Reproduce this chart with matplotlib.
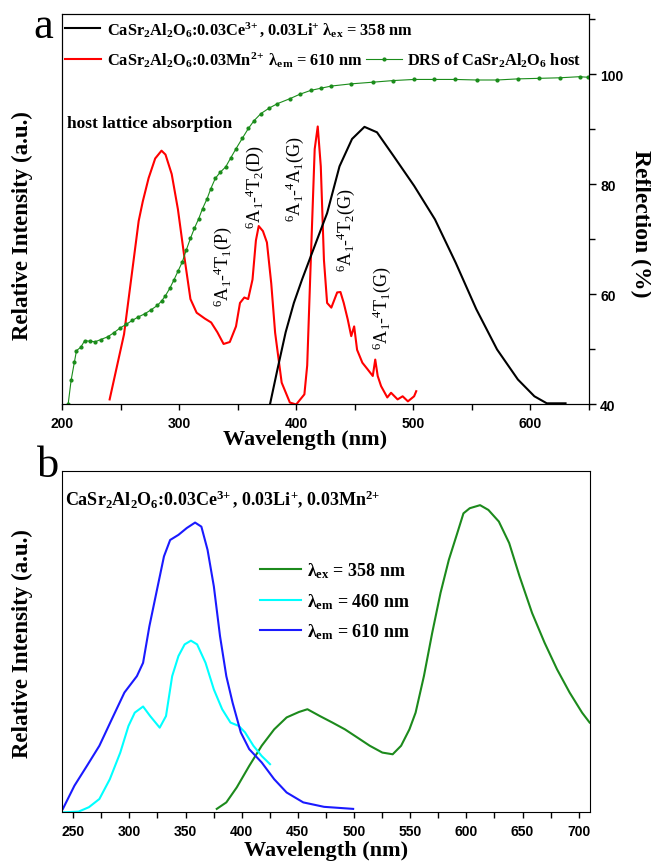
import matplotlib
matplotlib.use("Agg")
import matplotlib.pyplot as plt
from matplotlib.lines import Line2D
from matplotlib.ticker import MultipleLocator
import numpy as np

plt.rcParams['font.family'] = ['Liberation Serif', 'DejaVu Serif']
plt.rcParams['mathtext.fontset'] = 'custom'
plt.rcParams['mathtext.rm'] = 'Liberation Serif'
plt.rcParams['mathtext.bf'] = 'Liberation Serif:bold'
plt.rcParams['mathtext.it'] = 'Liberation Serif:italic'
plt.rcParams['mathtext.default'] = 'bf'

# ---------------- panel a data ----------------
# Mn2+ excitation (lambda_em = 610 nm), red
mn_ex_wl = [240.7, 253, 265.5, 269, 274, 279.6, 285, 288.4, 293.7, 299, 304.4, 309.7, 315, 322,
            327.4, 332.7, 338, 343.3, 348.6, 352, 355.7, 359, 362.7, 365.6, 368, 371.6, 375,
            378.7, 382, 387.6, 394.6, 400, 407, 409.4, 412.3, 415.8, 418.4, 421, 423.7, 426.4,
            430, 435, 437.8, 440.6, 444, 447, 449.5, 452, 456.5, 461, 465.4, 467.5, 469.6,
            472.5, 477.8, 481, 486.6, 490.9, 495.4, 500.7, 502.5]
mn_ex_int = [0.013, 0.18, 0.47, 0.52, 0.58, 0.63, 0.65, 0.64, 0.59, 0.50, 0.38, 0.27, 0.235, 0.22,
             0.21, 0.185, 0.155, 0.16, 0.20, 0.26, 0.274, 0.27, 0.32, 0.42, 0.457, 0.444, 0.415,
             0.31, 0.184, 0.056, 0.005, 0.0, 0.026, 0.10, 0.355, 0.654, 0.712, 0.61, 0.37, 0.26,
             0.248, 0.287, 0.288, 0.26, 0.218, 0.175, 0.20, 0.14, 0.107, 0.09, 0.073, 0.115, 0.073,
             0.047, 0.018, 0.03, 0.013, 0.021, 0.008, 0.021, 0.034]

# Ce3+ emission (lambda_ex = 358 nm), black
ce_em_wl = [377.6, 384, 391, 398, 405, 415.8, 426.4, 437, 447.7, 458.3, 469, 483, 500.7, 518.5,
            536.2, 553.8, 571.5, 589.3, 603.4, 614, 630]
ce_em_int = [0.0, 0.09, 0.185, 0.26, 0.32, 0.406, 0.49, 0.61, 0.68, 0.711, 0.697, 0.637, 0.56,
             0.474, 0.363, 0.244, 0.141, 0.064, 0.021, 0.003, 0.003]

# diffuse reflection spectrum of host, green (right axis, %)
drs_wl = [205.3, 207.8, 210.6, 212.4, 216, 219.4, 224, 228.3, 233, 239, 244, 249.6, 255, 260.2,
          265, 270.8, 276, 281.4, 285, 288.4, 292, 295.5, 299, 302.7, 306, 309.7, 313, 316.8,
          320, 323.9, 327, 330.9, 335, 339.8, 344, 348.6, 354, 359.2, 364, 369.9, 377, 384,
          394.6, 403, 412.3, 421, 430, 447, 465.4, 483, 500.7, 518, 536, 554, 571.5, 589,
          607, 625, 642, 649]
drs_ref = [40.1, 44.4, 47.7, 49.8, 50.4, 51.6, 51.5, 51.4, 51.8, 52.3, 53.0, 53.9, 54.6, 55.3,
           55.9, 56.5, 57.2, 58.0, 58.8, 59.8, 61.1, 62.6, 64.2, 65.9, 68.0, 70.2, 72.0, 73.8,
           75.6, 77.4, 79.2, 81.1, 82.2, 83.2, 84.8, 86.5, 88.4, 90.2, 91.6, 92.9, 93.9, 94.7,
           95.6, 96.4, 97.1, 97.5, 97.9, 98.3, 98.6, 98.9, 99.1, 99.1, 99.1, 99.0, 99.0, 99.2,
           99.3, 99.4, 99.6, 99.5]

# ---------------- panel b data ----------------
em358_wl = [377.8, 386.3, 395.6, 406.7, 417.8, 428.9, 440, 451, 458.5, 469.6, 480.7, 491.9, 503,
            514, 525.2, 534.4, 541.9, 549.3, 554.8, 562.2, 569.6, 577, 584.4, 591.9, 597.4, 603,
            612.2, 619.6, 628.9, 638.1, 647.4, 658.5, 669.6, 680.7, 691.9, 703, 709.7]
em358_int = [0.01, 0.029, 0.073, 0.136, 0.195, 0.243, 0.278, 0.294, 0.302, 0.282, 0.263, 0.243,
             0.219, 0.195, 0.175, 0.17, 0.195, 0.243, 0.292, 0.399, 0.526, 0.643, 0.74, 0.818,
             0.876, 0.891, 0.90, 0.886, 0.852, 0.789, 0.691, 0.584, 0.497, 0.419, 0.351, 0.292,
             0.263]

ex460_wl = [241.9, 254.8, 264, 273.3, 282.6, 291.9, 299.2, 304.8, 312.2, 318.5, 327, 332.6, 338.1,
            343.7, 349.2, 354.8, 360.3, 367.8, 375.2, 382.6, 390, 397.4, 403, 410.4, 417.8, 425.2]
ex460_int = [0.0, 0.002, 0.015, 0.039, 0.097, 0.175, 0.253, 0.292, 0.31, 0.282, 0.248, 0.282,
             0.399, 0.458, 0.492, 0.503, 0.492, 0.438, 0.36, 0.302, 0.263, 0.253, 0.234, 0.195,
             0.165, 0.141]

ex610_wl = [240.8, 251.1, 262.2, 273.3, 284.4, 295.6, 306.7, 312.2, 317.8, 325.2, 330.8, 336.3,
            343.7, 351.1, 358.5, 364.1, 369.6, 375.2, 380.7, 386.3, 391.9, 399.2, 406.7, 417.8,
            428.9, 440, 454.8, 473.3, 499.2]
ex610_int = [0.01, 0.078, 0.136, 0.195, 0.273, 0.351, 0.399, 0.438, 0.545, 0.662, 0.75, 0.798,
             0.813, 0.833, 0.849, 0.837, 0.769, 0.662, 0.516, 0.399, 0.321, 0.234, 0.185, 0.146,
             0.097, 0.058, 0.029, 0.016, 0.01]

host = r'CaSr$_{2}$Al$_{2}$O$_{6}$'
lbl_ce = host + r':0.03Ce$^{3\!+}$, 0.03Li$^{+}$ λ$_{ex}$ = 358 nm'
lbl_mn = host + r':0.03Mn$^{2\!+}$ λ$_{em}$ = 610 nm'
lbl_drs = r'DRS of ' + host + ' host'

transitions = [r'$^{\mathrm{6}}\mathrm{A}_{\mathrm{1}}$-$^{\mathrm{4}}\mathrm{T}_{\mathrm{1}}$(P)',
               r'$^{\mathrm{6}}\mathrm{A}_{\mathrm{1}}$-$^{\mathrm{4}}\mathrm{T}_{\mathrm{2}}$(D)',
               r'$^{\mathrm{6}}\mathrm{A}_{\mathrm{1}}$-$^{\mathrm{4}}\mathrm{A}_{\mathrm{1}}$(G)',
               r'$^{\mathrm{6}}\mathrm{A}_{\mathrm{1}}$-$^{\mathrm{4}}\mathrm{T}_{\mathrm{2}}$(G)',
               r'$^{\mathrm{6}}\mathrm{A}_{\mathrm{1}}$-$^{\mathrm{4}}\mathrm{T}_{\mathrm{1}}$(G)']
trans_x = [337, 364.5, 398.5, 442, 473]
trans_y = [0.356, 0.56, 0.58, 0.45, 0.25]


def style_ticks(ax):
    for lab in ax.get_xticklabels() + ax.get_yticklabels():
        lab.set_fontfamily('Liberation Sans')
        lab.set_fontweight('bold')
        lab.set_fontsize(10)


fig = plt.figure(figsize=(6.51, 8.62), dpi=100)

# ------------- panel a -------------
ax1 = fig.add_axes([0.0952, 0.5296, 0.8095, 0.4530])
ax1.plot(mn_ex_wl, mn_ex_int, color='red', lw=1.5)
ax1.plot(ce_em_wl, ce_em_int, color='black', lw=1.5)
ax1.set_xlim(200, 650)
ax1.set_ylim(0, 1)
ax1.set_yticks([])
ax1.xaxis.set_major_locator(MultipleLocator(100))
ax1.xaxis.set_minor_locator(MultipleLocator(50))
ax1.tick_params(axis='x', which='both', direction='out', top=False)
ax1.tick_params(axis='x', which='major', length=4.5, width=1, pad=4)
ax1.tick_params(axis='x', which='minor', length=4, width=1)
ax1.set_xlabel('Wavelength (nm)', fontsize=16, fontweight='bold')
ax1.xaxis.set_label_coords(0.461, -0.064)
ax1.set_ylabel('Relative Intensity (a.u.)', fontsize=16.5, fontweight='bold')
ax1.yaxis.set_label_coords(-0.055, 0.46)

ax2 = ax1.twinx()
ax2.plot(drs_wl, drs_ref, color='#1a8c1a', lw=0.8, marker='o', markersize=2)
ax2.set_ylim(40, 111)
ax2.yaxis.set_major_locator(MultipleLocator(20))
ax2.yaxis.set_minor_locator(MultipleLocator(10))
ax2.tick_params(axis='y', which='major', direction='out', length=5, width=1, pad=3)
ax2.tick_params(axis='y', which='minor', direction='out', length=4, width=1)
ax2.set_ylabel('Reflection (%)', fontsize=17, fontweight='bold', rotation=270,
               va='bottom')
ax2.yaxis.set_label_coords(1.078, 0.466)

ax1.text(204, 0.72, 'host lattice absorption', fontsize=12.5, fontweight='bold',
         va='center', ha='left')
for lbl, x, y in zip(transitions, trans_x, trans_y):
    ax1.text(x, y, lbl, rotation=90, fontsize=13, ha='center', va='center')

h_ce = Line2D([], [], color='black', lw=1.5)
h_mn = Line2D([], [], color='red', lw=1.5)
h_drs = Line2D([], [], color='#1a8c1a', lw=0.8, marker='o', markersize=2)
leg1 = ax1.legend([h_ce], [lbl_ce], loc='center left', bbox_to_anchor=(0.0057, 0.9616),
                  frameon=False, prop=dict(size=11.8, weight='bold'),
                  handlelength=2.15, handletextpad=0.4, borderaxespad=0, borderpad=0)
ax1.add_artist(leg1)
ax1.legend([h_mn, h_drs], [lbl_mn, lbl_drs], loc='center left', bbox_to_anchor=(0.0057, 0.885),
           frameon=False, prop=dict(size=11.8, weight='bold'), ncol=2, numpoints=1,
           handlelength=2.2, handletextpad=0.35, columnspacing=0.2,
           borderaxespad=0, borderpad=0)

fig.text(33 / 651, 1 - 38 / 862, 'a', fontsize=32, ha='left', va='baseline')

# ------------- panel b -------------
ax3 = fig.add_axes([0.0952, 0.0565, 0.8110, 0.3959])
ax3.plot(em358_wl, em358_int, color='#1c8a1c', lw=1.5, label=r'λ$_{ex}$ = 358 nm')
ax3.plot(ex460_wl, ex460_int, color='#00ffff', lw=1.5, label=r'λ$_{em}$ = 460 nm')
ax3.plot(ex610_wl, ex610_int, color='#1a1aff', lw=1.5, label=r'λ$_{em}$ = 610 nm')
ax3.set_xlim(240, 710)
ax3.set_ylim(0, 1)
ax3.set_yticks([])
ax3.xaxis.set_major_locator(MultipleLocator(50))
ax3.xaxis.set_minor_locator(MultipleLocator(25))
ax3.tick_params(axis='x', which='both', direction='out', top=False)
ax3.tick_params(axis='x', which='major', length=4.5, width=1, pad=4)
ax3.tick_params(axis='x', which='minor', length=4, width=1)
ax3.set_xlabel('Wavelength (nm)', fontsize=16, fontweight='bold')
ax3.xaxis.set_label_coords(0.5, -0.08)
ax3.set_ylabel('Relative Intensity (a.u.)', fontsize=16.5, fontweight='bold')
ax3.yaxis.set_label_coords(-0.055, 0.4985)
ax3.text(0.006, 0.921, host + r':0.03Ce$^{3\!+}$, 0.03Li$^{+}$, 0.03Mn$^{2\!+}$',
         transform=ax3.transAxes, fontsize=13, fontweight='bold', ha='left', va='center')
ax3.legend(loc='center left', bbox_to_anchor=(0.375, 0.619), frameon=False,
           prop=dict(size=13, weight='bold'), handlelength=2.3, handletextpad=0.28,
           labelspacing=0.6, borderaxespad=0, borderpad=0)

fig.text(37 / 651, 1 - 477 / 862, 'b', fontsize=32, ha='left', va='baseline')

fig.canvas.draw()
for ax in (ax1, ax2, ax3):
    style_ticks(ax)

fig.savefig('out.png', dpi=100)
